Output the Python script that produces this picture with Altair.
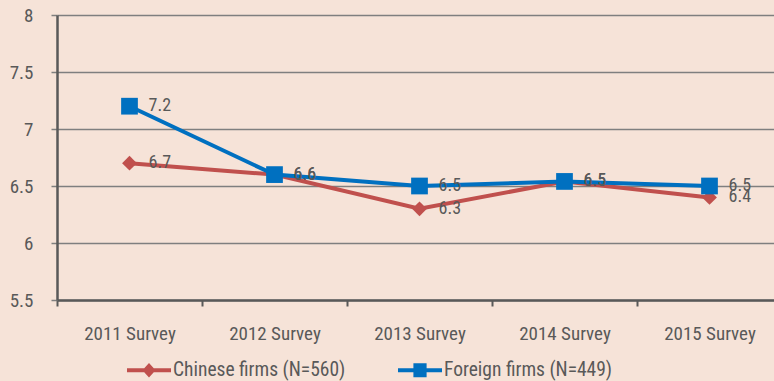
import altair as alt
import pandas as pd

# Survey rounds and average scores per respondent group
surveys = ["2011 Survey", "2012 Survey", "2013 Survey", "2014 Survey", "2015 Survey"]
chinese_scores = [6.7, 6.6, 6.3, 6.54, 6.4]
foreign_scores = [7.2, 6.6, 6.5, 6.54, 6.5]
series_names = ["Chinese firms (N=560)", "Foreign firms (N=449)"]
y_ticks = [5.5, 6, 6.5, 7, 7.5, 8]

# Styling
COLORS = ["#c0504d", "#0070c0"]
MARKERS = ["diamond", "square"]
MARKER_SIZES = [220, 280]
TEXT = "#595959"
GRID = "#7f7f7f"
BG = "#f6e3d8"
FONT = "Liberation Sans Narrow, Roboto Condensed, DejaVu Sans Condensed, sans-serif"

# Legend symbols (filled paths): a thick line segment with the series marker in the middle
LEGEND_SYMBOLS = [
    "M-1,-0.09L1,-0.09L1,0.09L-1,0.09ZM0,-0.33L0.3,0L0,0.33L-0.3,0Z",
    "M-1,-0.09L1,-0.09L1,0.09L-1,0.09ZM-0.3,-0.32L0.3,-0.32L0.3,0.32L-0.3,0.32Z",
]

rows = []
for name, scores in zip(series_names, [chinese_scores, foreign_scores]):
    for s, v in zip(surveys, scores):
        rows.append({"survey": s, "value": v, "series": name})
df = pd.DataFrame(rows)

x = alt.X(
    "survey:N",
    sort=surveys,
    title=None,
    scale=alt.Scale(type="band", paddingInner=0, paddingOuter=0, range=[0, 725]),
    axis=alt.Axis(
        labelAngle=0,
        tickBand="extent",
        grid=False,
        domainColor=TEXT,
        domainWidth=2.5,
        tickColor=TEXT,
        tickWidth=2,
        tickSize=6,
        labelFont=FONT,
        labelFontSize=19,
        labelColor=TEXT,
        labelPadding=18,
    ),
)
y = alt.Y(
    "value:Q",
    title=None,
    scale=alt.Scale(domain=[5.5, 8], nice=False, zero=False),
    axis=alt.Axis(
        values=y_ticks,
        format="~g",
        grid=True,
        gridColor=GRID,
        gridWidth=1.5,
        tickColor=GRID,
        tickWidth=1.5,
        tickSize=6,
        domainColor=TEXT,
        domainWidth=2.5,
        labelFont=FONT,
        labelFontSize=19,
        labelColor=TEXT,
        labelPadding=18,
    ),
)

base = alt.Chart(df)

# Legend-only layer (no rows pass the filter); its color and shape scales make the legend
legend_layer = base.transform_filter("false").mark_point(filled=True, opacity=1).encode(
    x=x,
    y=y,
    color=alt.Color(
        "series:N",
        scale=alt.Scale(domain=series_names, range=COLORS),
        legend=alt.Legend(
            title=None,
            orient="none",
            direction="horizontal",
            legendX=70,
            legendY=333,
            symbolSize=1936,
            symbolOpacity=1,
            symbolStrokeWidth=0,
            labelFont=FONT,
            labelFontSize=19.5,
            labelColor=TEXT,
            labelOffset=2,
            labelLimit=250,
            columnPadding=52,
        ),
    ),
    shape=alt.Shape("series:N", scale=alt.Scale(domain=series_names, range=LEGEND_SYMBOLS)),
)

# One line + marker pair per series
series_layers = []
for name, color, shape, size in zip(series_names, COLORS, MARKERS, MARKER_SIZES):
    sub = base.transform_filter(alt.datum.series == name)
    series_layers.append(sub.mark_line(strokeWidth=4, color=color).encode(x=x, y=y))
    series_layers.append(
        sub.mark_point(filled=True, opacity=1, shape=shape, size=size, color=color).encode(x=x, y=y)
    )

labels = base.mark_text(
    align="left", baseline="middle", dx=19, fontSize=18, font=FONT, color=TEXT
).encode(x=x, y=y, text=alt.Text("value:Q", format=".1f"))

chart = (
    alt.layer(legend_layer, *series_layers, labels)
    .properties(
        width=717,
        height=285,
        background=BG,
        padding={"left": 57, "top": 15, "right": 0, "bottom": 81},
        autosize=alt.AutoSizeParams(type="none"),
    )
    .configure_view(stroke=None)
)

chart.save("out.html", embed_options={"renderer": "svg", "actions": False})
